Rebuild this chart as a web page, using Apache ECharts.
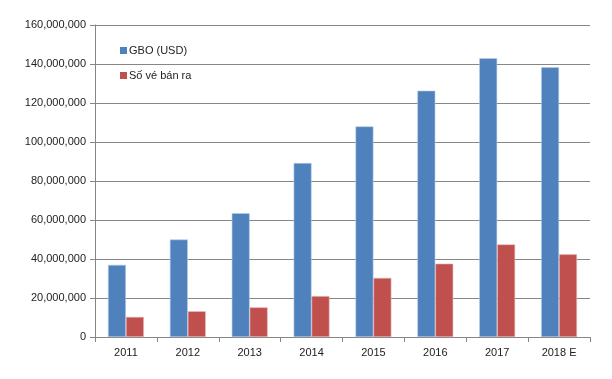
<!DOCTYPE html>
<html><head><meta charset="utf-8">
<script src="https://cdn.jsdelivr.net/npm/echarts@6/dist/echarts.min.js"></script>
<style>html,body{margin:0;padding:0;background:#fff}#c{width:612px;height:379px}</style>
</head><body><div id="c"></div>
<script>
const categories = ['2011','2012','2013','2014','2015','2016','2017','2018 E'];
const gbo = [37000000, 50000000, 63500000, 89200000, 108000000, 126300000, 143000000, 138300000];
const tickets = [10300000, 13200000, 15200000, 21000000, 30300000, 37600000, 47500000, 42400000];
const seriesNames = ['GBO (USD)', 'Số vé bán ra'];

const font = 'Liberation Sans, Arial, sans-serif';
const chart = echarts.init(document.getElementById('c'));
chart.setOption({
  animation: false,
  textStyle: { fontFamily: font },
  grid: { left: 95, right: 22, top: 25, bottom: 42, containLabel: false },
  legend: {
    orient: 'vertical', left: 115, top: 40, itemWidth: 7, itemHeight: 7, itemGap: 14,
    icon: 'rect',
    itemStyle: { borderWidth: 0 },
    textStyle: { fontSize: 11, color: '#222', fontFamily: font, padding: [0,0,0,-3] },
    data: seriesNames
  },
  xAxis: {
    type: 'category', data: categories,
    axisLine: { lineStyle: { color: '#868686', width: 1 } },
    axisTick: { show: true, length: 5, lineStyle: { color: '#868686' } },
    axisLabel: { fontSize: 11, color: '#222', margin: 10, fontFamily: font }
  },
  yAxis: {
    type: 'value', min: 0, max: 160000000, interval: 20000000,
    axisLine: { show: true, lineStyle: { color: '#868686', width: 1 } },
    axisTick: { show: true, length: 5, lineStyle: { color: '#868686' } },
    splitLine: { lineStyle: { color: '#868686', width: 1 } },
    axisLabel: { fontSize: 11, color: '#222', margin: 9, fontFamily: font,
      formatter: v => v.toLocaleString('en-US') }
  },
  series: [
    { name: seriesNames[0], type: 'bar', data: gbo, barGap: '0%', barCategoryGap: '42%',
      itemStyle: { color: '#4F81BD', borderColor: '#B9CDE5', borderWidth: 0.6 } },
    { name: seriesNames[1], type: 'bar', data: tickets, barGap: '0%', barCategoryGap: '42%',
      itemStyle: { color: '#C0504D', borderColor: '#E6B9B8', borderWidth: 0.6 } }
  ]
});
</script></body></html>
